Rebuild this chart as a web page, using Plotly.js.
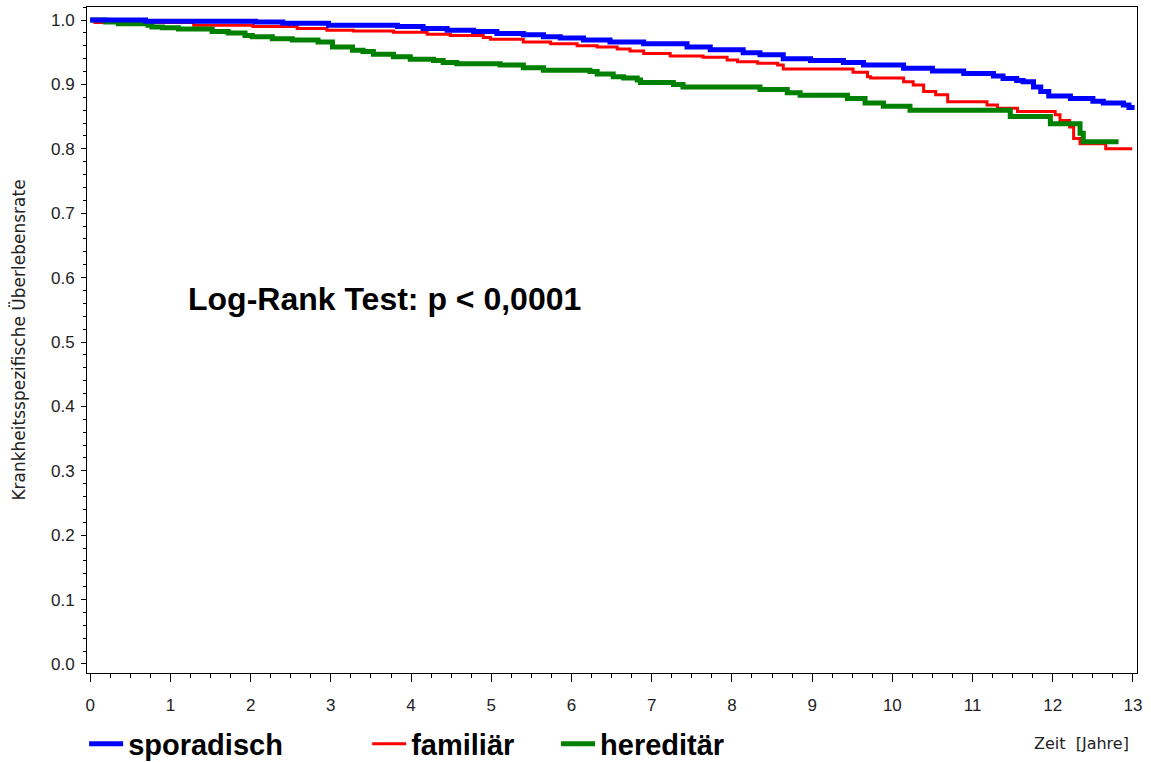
<!DOCTYPE html>
<html>
<head>
<meta charset="utf-8">
<script src="https://cdn.plot.ly/plotly-3.0.1.min.js"></script>
<style>
html,body{margin:0;padding:0;background:#fff;}
#chart{width:1151px;height:762px;}
</style>
</head>
<body>
<div id="chart"></div>
<script>
// Kaplan-Meier step curves (time in years, survival rate)
const sporadischTime = [0, 0.69, 2.06, 2.40, 2.97, 3.83, 4.15, 4.45, 4.78, 5.07, 5.40, 5.65, 5.86, 6.15, 6.48, 6.90, 7.44, 7.73, 8.14, 8.35, 8.64, 8.98, 9.39, 9.64, 10.14, 10.50, 10.89, 11.26, 11.38, 11.55, 11.63, 11.76, 11.85, 11.95, 12.22, 12.50, 12.63, 12.88, 12.95, 13.02];
const sporadischSurv = [1.000, 0.998, 0.997, 0.995, 0.992, 0.990, 0.987, 0.984, 0.982, 0.979, 0.977, 0.974, 0.972, 0.969, 0.966, 0.963, 0.958, 0.954, 0.949, 0.946, 0.940, 0.937, 0.934, 0.930, 0.925, 0.921, 0.917, 0.913, 0.909, 0.906, 0.904, 0.896, 0.889, 0.882, 0.878, 0.874, 0.871, 0.868, 0.864, 0.864];

const familiaerTime = [0, 0.06, 1.29, 2.03, 2.58, 2.95, 3.28, 3.78, 4.20, 4.49, 4.90, 4.99, 5.40, 5.74, 6.07, 6.32, 6.57, 6.73, 6.90, 7.23, 7.64, 7.94, 8.07, 8.32, 8.57, 8.64, 9.51, 9.69, 9.73, 10.14, 10.26, 10.39, 10.54, 10.69, 11.18, 11.31, 11.56, 12.03, 12.09, 12.21, 12.26, 12.34, 12.66, 12.99];
const familiaerSurv = [1.000, 0.996, 0.992, 0.990, 0.987, 0.984, 0.983, 0.981, 0.978, 0.976, 0.973, 0.970, 0.966, 0.963, 0.960, 0.958, 0.955, 0.952, 0.948, 0.944, 0.942, 0.938, 0.935, 0.933, 0.930, 0.924, 0.919, 0.912, 0.910, 0.904, 0.899, 0.889, 0.884, 0.873, 0.868, 0.863, 0.858, 0.853, 0.844, 0.834, 0.816, 0.808, 0.800, 0.800];

const hereditaerTime = [0, 0.19, 0.35, 0.72, 0.77, 0.90, 1.10, 1.52, 1.72, 1.93, 2.02, 2.27, 2.52, 2.84, 3.02, 3.27, 3.40, 3.53, 3.78, 3.99, 4.28, 4.40, 4.57, 5.11, 5.40, 5.65, 6.23, 6.32, 6.52, 6.65, 6.82, 6.86, 7.27, 7.39, 8.35, 8.69, 8.85, 9.44, 9.66, 9.89, 10.22, 11.47, 11.97, 12.34, 12.38, 12.82];
const hereditaerSurv = [1.000, 0.997, 0.994, 0.992, 0.989, 0.988, 0.986, 0.982, 0.980, 0.976, 0.974, 0.971, 0.969, 0.966, 0.958, 0.953, 0.951, 0.947, 0.943, 0.939, 0.937, 0.934, 0.932, 0.930, 0.926, 0.922, 0.920, 0.916, 0.912, 0.910, 0.907, 0.903, 0.900, 0.896, 0.892, 0.887, 0.883, 0.878, 0.871, 0.866, 0.860, 0.850, 0.839, 0.824, 0.811, 0.811];

const groupNames = ["sporadisch", "familiär", "hereditär"];
const groupColors = ["#0000FF", "#FF0000", "#008000"];

const yTickVals = [0, 0.1, 0.2, 0.3, 0.4, 0.5, 0.6, 0.7, 0.8, 0.9, 1.0];
const yTickText = ["0.0", "0.1", "0.2", "0.3", "0.4", "0.5", "0.6", "0.7", "0.8", "0.9", "1.0"];
const xTickVals = [0, 1, 2, 3, 4, 5, 6, 7, 8, 9, 10, 11, 12, 13];

const FONT = "Liberation Sans, Arial, Helvetica, sans-serif";
const WIDEFONT = "DejaVu Sans, Verdana, sans-serif";

const traces = [
  {x: familiaerTime, y: familiaerSurv, name: groupNames[1], type: "scatter", mode: "lines",
   line: {shape: "hv", color: groupColors[1], width: 3}, legend: "legend2"},
  {x: hereditaerTime, y: hereditaerSurv, name: groupNames[2], type: "scatter", mode: "lines",
   line: {shape: "hv", color: groupColors[2], width: 5}, legend: "legend3"},
  {x: sporadischTime, y: sporadischSurv, name: groupNames[0], type: "scatter", mode: "lines",
   line: {shape: "hv", color: groupColors[0], width: 5}, legend: "legend"}
];

const legendFont = {family: FONT, size: 29, color: "#000", weight: "bold"};
function leg(x) {
  return {x: x, xref: "container", xanchor: "left", y: 0.0236, yref: "container", yanchor: "middle",
          orientation: "h", font: legendFont, bgcolor: "rgba(0,0,0,0)", borderwidth: 0,
          itemwidth: 34, tracegroupgap: 0};
}

const layout = {
  width: 1151, height: 762,
  margin: {l: 87, r: 14, t: 7, b: 89, pad: 0},
  paper_bgcolor: "#fff", plot_bgcolor: "#fff",
  font: {family: FONT, size: 16, color: "#000"},
  showlegend: true,
  legend: leg(0.0731),
  legend2: leg(0.3190),
  legend3: leg(0.4831),
  xaxis: {
    range: [-0.04, 13.05], tickvals: xTickVals, ticks: "outside", ticklen: 8, tickwidth: 1,
    tickcolor: "#000", showline: true, linecolor: "#000", linewidth: 1, mirror: true,
    showgrid: false, zeroline: false, ticklabelstandoff: 9,
    tickfont: {family: FONT, size: 17, color: "#222"},
    minor: {dtick: 0.25, ticks: "outside", ticklen: 4, tickcolor: "#000", showgrid: false}
  },
  yaxis: {
    range: [-0.014, 1.0202], tickvals: yTickVals, ticktext: yTickText, ticks: "outside",
    ticklen: 5, tickwidth: 1, tickcolor: "#000", showline: true, linecolor: "#000",
    linewidth: 1, mirror: true, showgrid: false, zeroline: false, ticklabelstandoff: 3,
    tickfont: {family: FONT, size: 17, color: "#222"},
    minor: {dtick: 0.02, ticks: "outside", ticklen: 3, tickcolor: "#000", showgrid: false},
    title: {text: "Krankheitsspezifische Überlebensrate", standoff: 21,
            font: {family: WIDEFONT, size: 17, color: "#222"}}
  },
  annotations: [
    {text: "Log-Rank Test: p < 0,0001", x: 1.2, y: 0.566, xref: "x", yref: "y",
     xanchor: "left", yanchor: "middle", showarrow: false,
     font: {family: FONT, size: 32, color: "#000", weight: "bold"}},
    {text: "Zeit  [Jahre]", xref: "paper", yref: "paper", x: 0.994, y: -0.1066,
     xanchor: "right", yanchor: "middle", showarrow: false,
     font: {family: WIDEFONT, size: 16, color: "#222"}}
  ]
};

Plotly.newPlot("chart", traces, layout, {displayModeBar: false, staticPlot: true});
</script>
</body>
</html>
